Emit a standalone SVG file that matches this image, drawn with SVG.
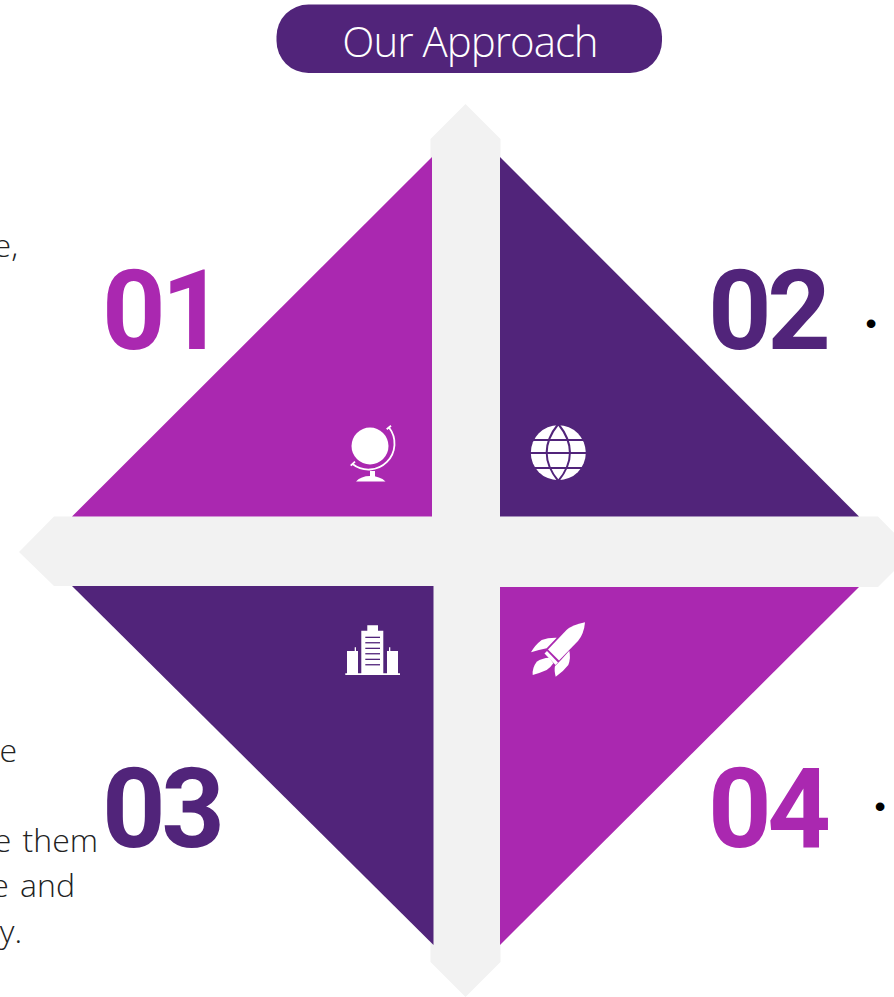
<svg xmlns="http://www.w3.org/2000/svg" width="894" height="997" viewBox="0 0 894 997">
<style>
.m{fill:#aa28b0}.p{fill:#51247a}.g{fill:#f2f2f2}.w{fill:#fff}
.num{font-family:"Roboto","Liberation Sans",sans-serif;font-weight:700;font-size:111px;letter-spacing:-4.500px}
.body{font-family:"Open Sans","Noto Sans",sans-serif;font-weight:300;font-size:32px;fill:#222;text-anchor:end}
.bul{font-family:"Liberation Sans",sans-serif;font-size:32px;fill:#000;text-anchor:middle}
</style>
<rect width="894" height="997" fill="#fff"/>
<g id="title"><rect class="p" x="276.500" y="4.500" width="385.500" height="68.500" rx="32"/>
<text x="470" y="56.500" text-anchor="middle" font-family="'Open Sans','Noto Sans',sans-serif" font-weight="300" font-size="42" letter-spacing="-1" fill="#fff">Our Approach</text></g>
<g id="cross"><path class="g" d="M465.500 104L500.500 139V516.500H878L913 552L878 587H500.500V962L465.500 997L430.500 962V586H54L19 552L54 516.500H430.500V139Z"/></g>
<g id="quadrant-01"><path class="m" d="M432 157V516.500H72Z"/>
<g id="icon-globe" class="w"><circle cx="370" cy="446" r="18.500"/><path d="M386.700 429.300L391 425.700M389 427.500A26 26 0 0 1 352.500 464M350.700 465.700L355 461.700" fill="none" stroke="#fff" stroke-width="1.800"/><rect x="370" y="471" width="5" height="6"/><path d="M356 481.500Q361 476 370 476Q380 476 385.500 481.500Z"/></g>
<text class="num m" x="102" y="348.500">01</text></g>
<g id="quadrant-02"><path class="p" d="M500 157L859 516.500H500Z"/>
<g id="icon-world"><circle class="w" cx="558.300" cy="452.700" r="27.500"/><g fill="none" stroke="#51247a" stroke-width="2"><path d="M530 440H586M530 453H586M530 468H586"/><path d="M558.300 424Q535 452.700 558.300 481Q581.600 452.700 558.300 424Z"/></g></g>
<text class="num p" x="708" y="348.500">02</text></g>
<g id="quadrant-03"><path class="p" d="M72 586H433.500V945Z"/>
<g id="icon-building"><path class="w" d="M361.300 673.300V630.700H367.300V625.300H378V630.700H383.300V673.300H387V651H389V647.300H390.300V651H398V673.300H400V675H345.300V673.300H347V651H354.700V647.300H356V651H358V673.300Z"/><g class="p"><rect x="365.300" y="636.700" width="14.700" height="1.300"/><rect x="365.300" y="642.100" width="14.700" height="1.300"/><rect x="365.300" y="647.700" width="14.700" height="1.300"/><rect x="365.300" y="653.100" width="14.700" height="1.300"/><rect x="365.300" y="658.700" width="14.700" height="1.300"/><rect x="365.300" y="664.100" width="14.700" height="1.300"/></g></g>
<text class="num p" x="102" y="846.500">03</text></g>
<g id="quadrant-04"><path class="m" d="M500 587H859L500 945Z"/>
<g id="icon-rocket" class="w"><path d="M585 622.300Q572 625 566.500 630L548 649.500L559 660.500L578 641Q584 634 585 622.300Z"/><path d="M544.500 653.500L547 651L558 662.500L555.500 665Z"/><path d="M531 652.300Q535 645 541.700 640Q548 637.500 556.700 637.700L546.700 648.300Q539 650 531 652.300Z"/><path d="M569.300 650.700Q571 658 568.300 665Q563 672 555.700 676.700Q554 670 555 666L561 660Z"/><path d="M549.300 657.700Q542 658 536.700 661.700Q532 668 532.700 675Q540 673 546.700 670Q551 667 553.300 663.300Z"/></g>
<text class="num m" x="708" y="846.500">04</text></g>
<g id="side-text">
<text class="body" x="18" y="257">e,</text>
<text class="body" x="17" y="762">e</text>
<text class="body" x="98" y="852" word-spacing="3">e them</text>
<text class="body" x="75" y="897" word-spacing="3">e and</text>
<text class="body" x="22" y="943">y.</text>
<text class="bul" x="871" y="334">•</text>
<text class="bul" x="880" y="817">•</text>
</g>
</svg>
